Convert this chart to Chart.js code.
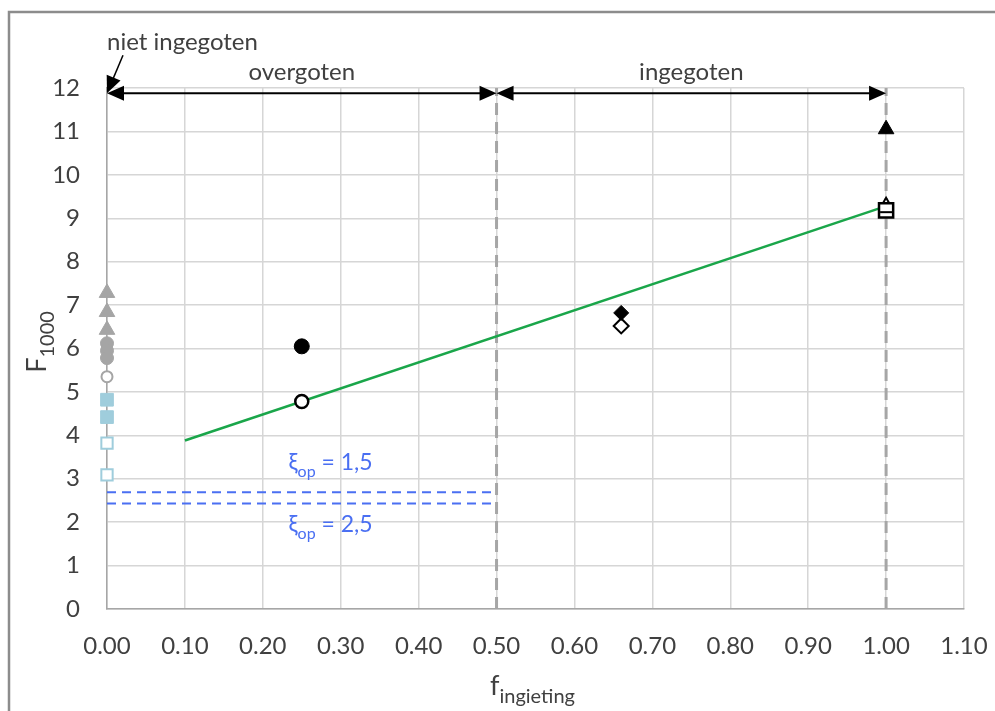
<!DOCTYPE html>
<html>
<head>
<meta charset="utf-8">
<script src="https://cdn.jsdelivr.net/npm/chart.js@4.4.1/dist/chart.umd.min.js"></script>
<style>
  html, body { margin: 0; padding: 0; background: #fff; }
  #wrap { width: 995px; height: 711px; position: relative; }
</style>
</head>
<body>
<div id="wrap"><canvas id="chart" width="995" height="711"></canvas></div>
<script>
// axis ticks
const xTickMin = 0, xTickMax = 1.1, xTickStep = 0.1;
const yTickMin = 0, yTickMax = 12, yTickStep = 1;

// "niet ingegoten" column (f = 0)
const grayTriangles = [7.28, 6.84, 6.43];
const grayDots = [6.12, 5.95, 5.78];
const grayOpenDots = [5.35];
const blueSquares = [4.82, 4.42];
const blueOpenSquares = [3.82, 3.09];

// other measurements
const dotX = [0.25], dotY = [6.05];
const openDotX = [0.25], openDotY = [4.78];
const diamondX = [0.66], diamondY = [6.82];
const openDiamondX = [0.66], openDiamondY = [6.52];
const triangleX = [1.0], triangleY = [11.05];
const openTriangleX = [1.0], openTriangleY = [9.31];
const openSquareX = [1.0], openSquareY = [9.18];
const dashX = [1.0], dashY = [9.14];

// trend line
const trendX = [0.10, 1.00];
const trendY = [3.88, 9.28];

// xi_op limits
const xiValues = [2.69, 2.43];
const xiLabels = ["1,5", "2,5"];
const xiRange = [0, 0.5];

// regions
const regionBounds = [0, 0.5, 1.0];
const regionLabels = ["overgoten", "ingegoten"];
const regionArrowY = 11.88;

const GRAY = "#a5a5a5";
const LBLUE = "#9fcddc";
const BLUE = "#4a6ff2";
const TXT = "#404040";
const FONT = "Lato, 'Open Sans', sans-serif";

function pts(xs, ys) {
    return ys.map((y, i) => ({ x: xs[i], y: y }));
}
function atZero(ys) {
    return ys.map(y => ({ x: 0, y: y }));
}

function marker(data, style, radius, fill, stroke, bw) {
    return {
        data: data,
        pointStyle: style,
        pointRadius: radius,
        backgroundColor: fill,
        borderColor: stroke,
        borderWidth: bw,
        showLine: false,
        clip: false
    };
}

const datasets = [
    marker(pts(dashX, dashY), "line", 6, "#000", "#000", 2),
    marker(pts(openSquareX, openSquareY), "rect", 10, "#fff", "#000", 2.5),
    marker(pts(openTriangleX, openTriangleY), "triangle", 7, "#fff", "#000", 2),
    marker(pts(triangleX, triangleY), "triangle", 9, "#000", "#000", 1),
    marker(pts(diamondX, diamondY), "rectRot", 7.5, "#000", "#000", 1),
    marker(pts(openDiamondX, openDiamondY), "rectRot", 7.5, "#fff", "#000", 2),
    marker(pts(dotX, dotY), "circle", 7.5, "#000", "#000", 1),
    marker(pts(openDotX, openDotY), "circle", 6.5, "#fff", "#000", 2.5),
    marker(atZero(grayTriangles), "triangle", 9, GRAY, GRAY, 1),
    marker(atZero(grayDots), "circle", 6.5, GRAY, GRAY, 1),
    marker(atZero(grayOpenDots), "circle", 5.5, "#fff", GRAY, 2),
    marker(atZero(blueSquares), "rect", 9, LBLUE, LBLUE, 1),
    marker(atZero(blueOpenSquares), "rect", 8, "#fff", LBLUE, 2)
];

// trend
datasets.push({
    data: pts(trendX, trendY),
    showLine: true,
    borderColor: "#1aa64a",
    borderWidth: 2.5,
    pointRadius: 0
});

// xi_op dashed lines
xiValues.forEach(v => {
    datasets.push({
        data: xiRange.map(x => ({ x: x, y: v })),
        showLine: true,
        borderColor: BLUE,
        borderWidth: 2,
        borderDash: [9, 6],
        pointRadius: 0
    });
});

// region boundaries
regionBounds.slice(1).forEach(b => {
    datasets.push({
        data: [{ x: b, y: yTickMin }, { x: b, y: yTickMax }],
        showLine: true,
        borderColor: "#a6a6a6",
        borderWidth: 3,
        borderDash: [12, 7],
        pointRadius: 0
    });
});

function arrowHead(ctx, tipX, tipY, dirX, dirY, len, half) {
    const nx = -dirY, ny = dirX;
    const bx = tipX - dirX * len, by = tipY - dirY * len;
    ctx.beginPath();
    ctx.moveTo(tipX, tipY);
    ctx.lineTo(bx + nx * half, by + ny * half);
    ctx.lineTo(bx - nx * half, by - ny * half);
    ctx.closePath();
    ctx.fill();
}

// text with a subscript part: parts = [[text, isSub], ...]
function drawSub(ctx, x, y, parts, size, subSize, align) {
    const mainFont = size + "px " + FONT;
    const subFont = subSize + "px " + FONT;
    let total = 0;
    parts.forEach(p => {
        ctx.font = p[1] ? subFont : mainFont;
        total += ctx.measureText(p[0]).width;
    });
    let cx = align === "center" ? x - total / 2 : x;
    ctx.textAlign = "left";
    ctx.textBaseline = "alphabetic";
    parts.forEach(p => {
        ctx.font = p[1] ? subFont : mainFont;
        ctx.fillText(p[0], cx, p[1] ? y + size * 0.28 : y);
        cx += ctx.measureText(p[0]).width;
    });
}

const annotations = {
    id: "annotations",
    afterDatasetsDraw(chart) {
        const ctx = chart.ctx;
        const xs = chart.scales.x, ys = chart.scales.y;
        ctx.save();

        // region arrows
        ctx.fillStyle = "#000";
        ctx.strokeStyle = "#000";
        ctx.lineWidth = 2;
        const ay = ys.getPixelForValue(regionArrowY);
        for (let i = 0; i < regionLabels.length; i++) {
            const x1 = xs.getPixelForValue(regionBounds[i]);
            const x2 = xs.getPixelForValue(regionBounds[i + 1]);
            ctx.beginPath();
            ctx.moveTo(x1 + 10, ay);
            ctx.lineTo(x2 - 10, ay);
            ctx.stroke();
            arrowHead(ctx, x1, ay, -1, 0, 17, 7.5);
            arrowHead(ctx, x2, ay, 1, 0, 17, 7.5);
            ctx.fillStyle = TXT;
            ctx.font = "24px " + FONT;
            ctx.textAlign = "center";
            ctx.textBaseline = "alphabetic";
            ctx.fillText(regionLabels[i], (x1 + x2) / 2, ay - 13);
            ctx.fillStyle = "#000";
        }

        // "niet ingegoten" pointer
        const px = xs.getPixelForValue(0), py = ay;
        const sx = px + 16, sy = py - 38;
        const len = Math.hypot(px - sx, py - sy);
        const dx = (px - sx) / len, dy = (py - sy) / len;
        ctx.lineWidth = 1.5;
        ctx.beginPath();
        ctx.moveTo(sx, sy);
        ctx.lineTo(px - dx * 12, py - dy * 12);
        ctx.stroke();
        arrowHead(ctx, px, py, dx, dy, 17, 7.5);
        ctx.fillStyle = TXT;
        ctx.font = "24px " + FONT;
        ctx.textAlign = "left";
        ctx.fillText("niet ingegoten", px, py - 43);

        // xi_op labels
        ctx.fillStyle = BLUE;
        const lx = xs.getPixelForValue(0.287);
        drawSub(ctx, lx, ys.getPixelForValue(xiValues[0]) - 22, [["ξ", false], ["op", true], [" = " + xiLabels[0], false]], 23, 16, "center");
        drawSub(ctx, lx, ys.getPixelForValue(xiValues[1]) + 29, [["ξ", false], ["op", true], [" = " + xiLabels[1], false]], 23, 16, "center");

        // axis titles
        ctx.fillStyle = TXT;
        drawSub(ctx, 490, 695, [["f", false], ["ingieting", true]], 27, 20, "left");
        ctx.translate(46, 342);
        ctx.rotate(-Math.PI / 2);
        drawSub(ctx, 0, 0, [["F", false], ["1000", true]], 27, 20, "center");
        ctx.restore();

        // outer frame
        ctx.save();
        ctx.strokeStyle = "#8c8c8c";
        ctx.lineWidth = 2.5;
        ctx.beginPath();
        ctx.moveTo(9, 711);
        ctx.lineTo(9, 12);
        ctx.lineTo(995, 12);
        ctx.stroke();
        ctx.restore();
    }
};

new Chart(document.getElementById("chart").getContext("2d"), {
    type: "scatter",
    data: { datasets: datasets },
    options: {
        responsive: false,
        animation: false,
        layout: { padding: { left: 0, top: 88, right: 31, bottom: 0 } },
        plugins: { legend: { display: false }, tooltip: { enabled: false } },
        scales: {
            x: {
                type: "linear",
                min: xTickMin,
                max: xTickMax,
                afterFit: s => { s.height = 102; s.paddingLeft = 0; s.paddingRight = 0; },
                ticks: {
                    stepSize: xTickStep,
                    padding: 23,
                    color: TXT,
                    font: { family: FONT, size: 24 },
                    maxRotation: 0,
                    callback: v => v.toFixed(2)
                },
                grid: { color: "#d6d6d6", lineWidth: 1.5, drawTicks: false },
                border: { color: "#a6a6a6", width: 1.5 }
            },
            y: {
                type: "linear",
                min: yTickMin,
                max: yTickMax,
                afterFit: s => { s.width = 107; s.paddingTop = 0; s.paddingBottom = 0; },
                ticks: {
                    stepSize: yTickStep,
                    padding: 27,
                    color: TXT,
                    font: { family: FONT, size: 24 }
                },
                grid: { color: "#d6d6d6", lineWidth: 1.5, drawTicks: false },
                border: { color: "#a6a6a6", width: 1.5 }
            }
        }
    },
    plugins: [annotations]
});
</script>
</body>
</html>
